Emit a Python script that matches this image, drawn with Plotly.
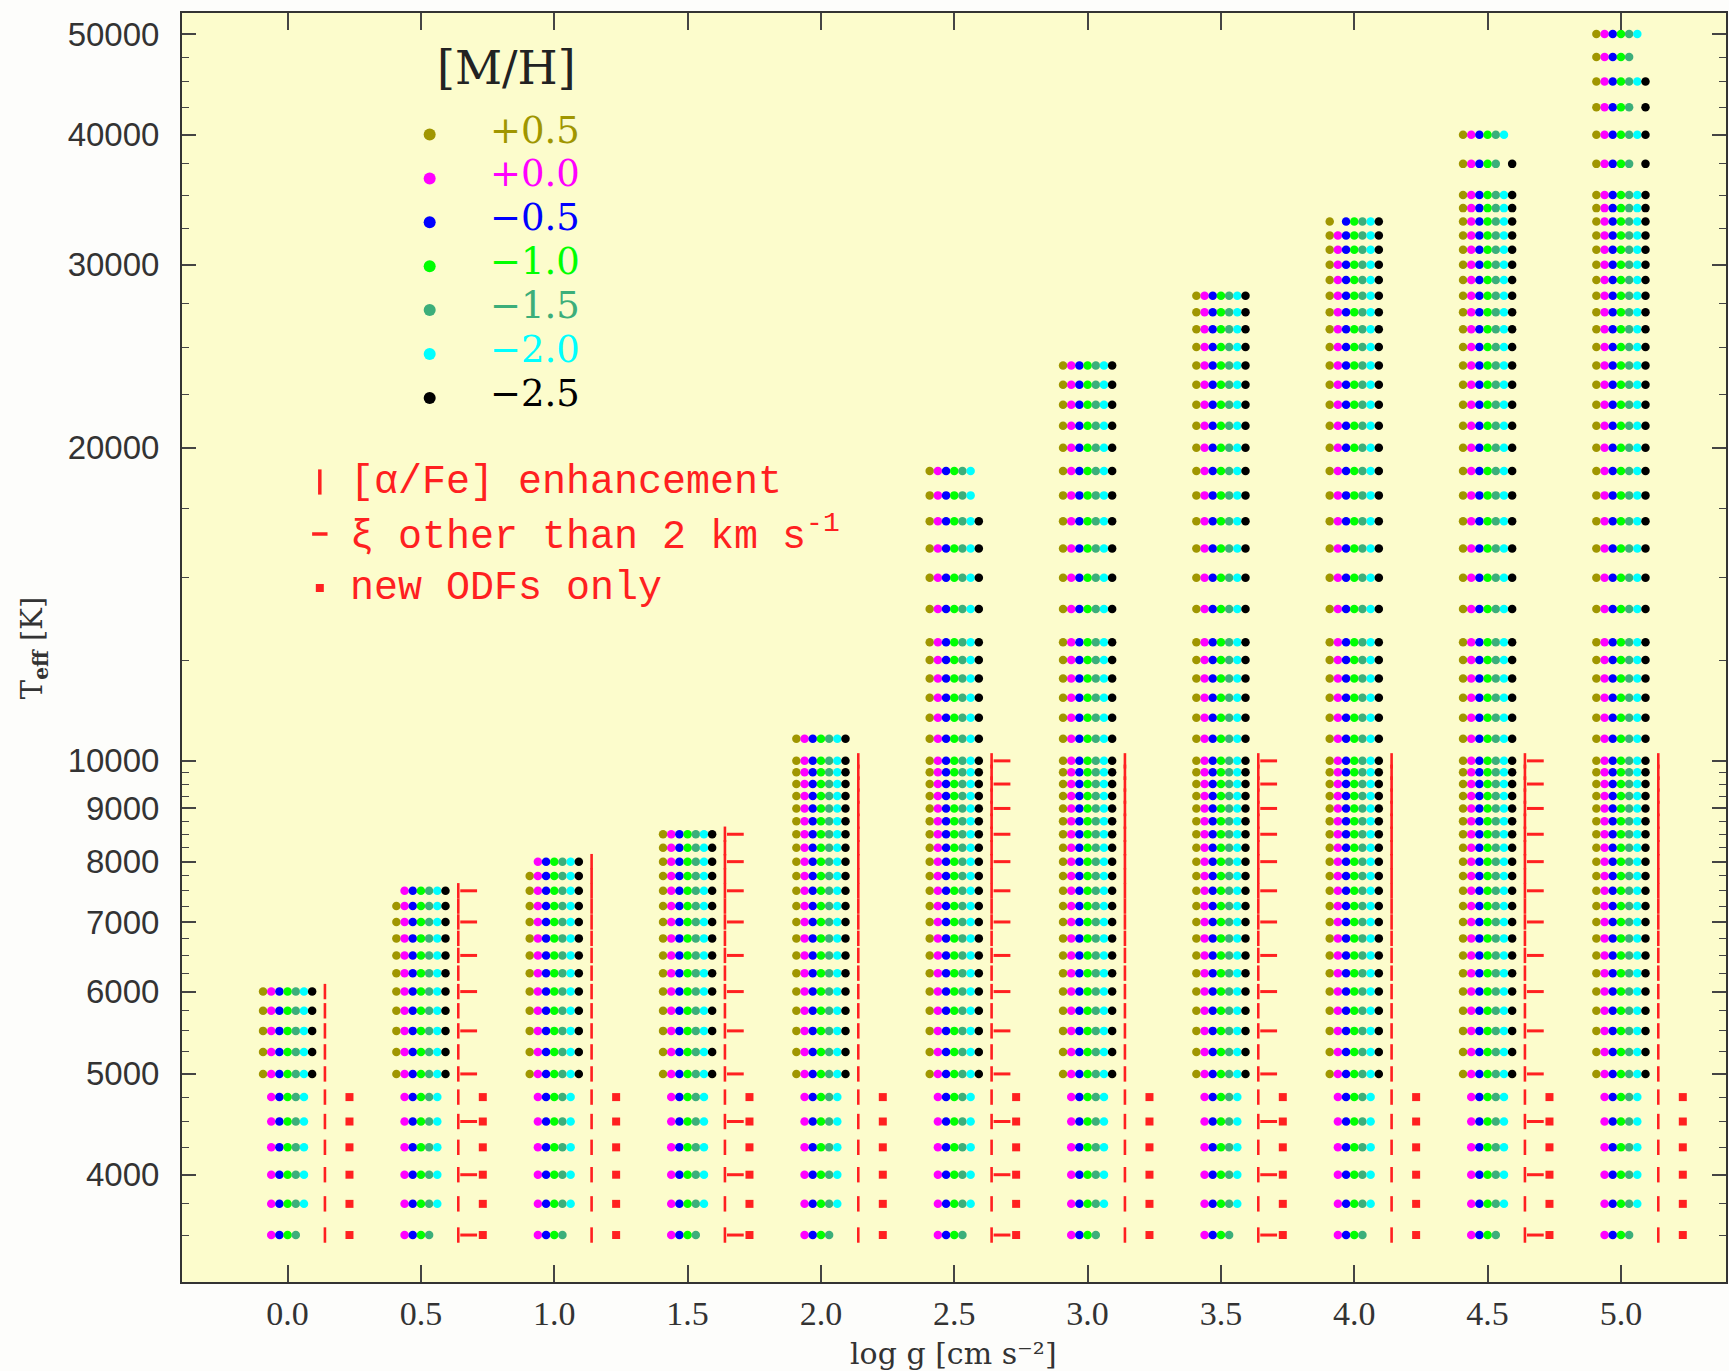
import plotly.graph_objects as go

# ---------------- data ----------------
logg_values = [0.0, 0.5, 1.0, 1.5, 2.0, 2.5, 3.0, 3.5, 4.0, 4.5, 5.0]
logg_ticktext = ["0.0", "0.5", "1.0", "1.5", "2.0", "2.5", "3.0", "3.5", "4.0", "4.5", "5.0"]
teff_max = [6000, 7500, 8000, 8500, 10500, 19000, 24000, 28000, 33000, 40000, 50000]

teff_grid = [3500, 3750, 4000, 4250, 4500, 4750, 5000, 5250, 5500, 5750, 6000, 6250,
             6500, 6750, 7000, 7250, 7500, 7750, 8000, 8250, 8500, 8750, 9000, 9250,
             9500, 9750, 10000, 10500, 11000, 11500, 12000, 12500, 13000, 14000, 15000,
             16000, 17000, 18000, 19000, 20000, 21000, 22000, 23000, 24000, 25000, 26000,
             27000, 28000, 29000, 30000, 31000, 32000, 33000, 34000, 35000, 37500, 40000,
             42500, 45000, 47500, 50000]

mh_labels = ["+0.5", "+0.0", "\u22120.5", "\u22121.0", "\u22121.5", "\u22122.0", "\u22122.5"]
mh_colors = ["#a09600", "#ff00ff", "#0000ff", "#00ff00", "#3cae7a", "#00ffff", "#000000"]

# metallicities absent at the cool end (all log g)
cool_teffs = [3500, 3750, 4000, 4250, 4500, 4750]
cool_missing = ["+0.5", "\u22122.5"]
coolest_teff = 3500
coolest_missing = ["\u22122.0"]

# individual missing models: (log g, Teff, [M/H])
missing_models = [
    (0.5, 7500, "+0.5"),
    (1.0, 8000, "+0.5"),
    (2.5, 18000, "\u22122.5"),
    (2.5, 19000, "\u22122.5"),
    (4.0, 33000, "+0.0"),
    (4.5, 37500, "\u22122.0"),
    (4.5, 40000, "\u22122.5"),
    (5.0, 37500, "\u22122.0"),
    (5.0, 42500, "\u22122.0"),
    (5.0, 47500, "\u22122.0"),
    (5.0, 47500, "\u22122.5"),
    (5.0, 50000, "\u22122.5"),
]

alpha_teff_limit = 10000
xi_logg = [0.5, 1.5, 2.5, 3.5, 4.5]
xi_teffs = [3500, 4000, 4500, 5000, 5500, 6000, 6500, 7000, 7500, 8000, 8500, 9000, 9500, 10000]
odf_teffs = [3500, 3750, 4000, 4250, 4500, 4750]

y_major = [4000, 5000, 6000, 7000, 8000, 9000, 10000, 20000, 30000, 40000, 50000]
y_minor = [3500, 3750, 4250, 4500, 4750, 5250, 5500, 5750, 6250, 6500, 6750, 7250, 7500,
           7750, 8250, 8500, 8750, 9250, 9500, 9750, 12500, 15000, 17500, 22500, 25000,
           27500, 32500, 35000, 37500, 42500, 45000, 47500]

# ---------------- styling / layout constants ----------------
W, H = 1729, 1371
L, R, T, B = 182, 1728, 13, 1282          # plot-area pixel box
X_RANGE = [-0.396, 5.394]
Y_RANGE = [3.4989, 4.7191]
MH_STEP = 0.0307
ALPHA_OFF, XI_OFF, ODF_OFF = 0.140, 0.179, 0.232
RED = "#ff2020"
BG = "#fcfccc"


def px_to_paper(px, py):
    return (px - L) / (R - L), (B - py) / (B - T)


fig = go.Figure()

tmax_of = dict(zip(logg_values, teff_max))
missing_set = set(missing_models)
for k, (lab, col) in enumerate(zip(mh_labels, mh_colors)):
    xs, ys = [], []
    for g, tmax in zip(logg_values, teff_max):
        for t in teff_grid:
            if t > tmax:
                continue
            if t in cool_teffs and lab in cool_missing:
                continue
            if t == coolest_teff and lab in coolest_missing:
                continue
            if (g, t, lab) in missing_set:
                continue
            xs.append(g + (k - 3) * MH_STEP)
            ys.append(t)
    fig.add_trace(go.Scatter(x=xs, y=ys, mode="markers", name=lab, showlegend=False,
                             marker=dict(size=8.5, color=col, line=dict(width=0)),
                             hoverinfo="skip"))

# alpha enhancement ticks
ax, ay = [], []
for g, tmax in zip(logg_values, teff_max):
    for t in teff_grid:
        if t <= min(tmax, alpha_teff_limit):
            ax.append(g + ALPHA_OFF)
            ay.append(t)
fig.add_trace(go.Scatter(x=ax, y=ay, mode="markers", showlegend=False, hoverinfo="skip",
                         marker=dict(symbol="line-ns", size=11, line=dict(width=2.6, color=RED))))

# microturbulence dashes
xx, xy = [], []
for g in xi_logg:
    for t in xi_teffs:
        if t <= min(tmax_of[g], alpha_teff_limit):
            xx.append(g + XI_OFF)
            xy.append(t)
fig.add_trace(go.Scatter(x=xx, y=xy, mode="markers", showlegend=False, hoverinfo="skip",
                         marker=dict(symbol="line-ew", size=12, line=dict(width=3, color=RED))))

# new ODFs squares
ox, oy = [], []
for g in logg_values:
    for t in odf_teffs:
        ox.append(g + ODF_OFF)
        oy.append(t)
fig.add_trace(go.Scatter(x=ox, y=oy, mode="markers", showlegend=False, hoverinfo="skip",
                         marker=dict(symbol="square", size=8, color=RED, line=dict(width=0))))

# ---------------- in-plot legend (pixel-coordinate overlay axes) ----------------
leg_dot_x = 430
leg_label_x = 488
leg_y0, leg_dy = 134.5, 43.9
leg_text_y0 = 130.0
fig.add_trace(go.Scatter(
    x=[leg_dot_x] * len(mh_labels),
    y=[leg_y0 + i * leg_dy for i in range(len(mh_labels))],
    mode="markers", xaxis="x2", yaxis="y2", showlegend=False, hoverinfo="skip",
    marker=dict(size=12, color=mh_colors, line=dict(width=0))))

annotations = []
annotations.append(dict(x=507, y=68, xref="x2", yref="y2", text="[M/H]", showarrow=False,
                        xanchor="center", yanchor="middle",
                        font=dict(family="DejaVu Serif", size=46, color="#222222")))
for i, (lab, col) in enumerate(zip(mh_labels, mh_colors)):
    annotations.append(dict(x=leg_label_x, y=leg_text_y0 + i * leg_dy, xref="x2", yref="y2",
                            text=lab, showarrow=False, xanchor="left", yanchor="middle",
                            font=dict(family="DejaVu Serif", size=37, color=col)))

red_mark_x = 320
red_text_x = 348
red_rows_y = [482, 534, 588]
red_texts = ["[\u03b1/Fe] enhancement", "\u03be other than 2 km s<sup>-1</sup>", "new ODFs only"]
fig.add_trace(go.Scatter(x=[red_mark_x], y=[red_rows_y[0]], mode="markers", xaxis="x2", yaxis="y2",
                         showlegend=False, hoverinfo="skip",
                         marker=dict(symbol="line-ns", size=18, line=dict(width=3.5, color=RED))))
fig.add_trace(go.Scatter(x=[red_mark_x], y=[red_rows_y[1]], mode="markers", xaxis="x2", yaxis="y2",
                         showlegend=False, hoverinfo="skip",
                         marker=dict(symbol="line-ew", size=11, line=dict(width=3.5, color=RED))))
fig.add_trace(go.Scatter(x=[red_mark_x], y=[red_rows_y[2]], mode="markers", xaxis="x2", yaxis="y2",
                         showlegend=False, hoverinfo="skip",
                         marker=dict(symbol="square", size=8, color=RED, line=dict(width=0))))
for yv, txt in zip(red_rows_y, red_texts):
    annotations.append(dict(x=red_text_x, y=yv, xref="x2", yref="y2", text=txt, showarrow=False,
                            xanchor="left", yanchor="middle",
                            font=dict(family="Liberation Mono", size=40, color=RED)))

# axis titles (paper coordinates, outside the plot area)
xt_x, xt_y = px_to_paper(954, 1353)
annotations.append(dict(x=xt_x, y=xt_y, xref="paper", yref="paper",
                        text="log g [cm s\u207b\u00b2]", showarrow=False,
                        xanchor="center", yanchor="middle",
                        font=dict(family="DejaVu Serif", size=30, color="#333333")))
yt_x, yt_y = px_to_paper(34, 648)
annotations.append(dict(x=yt_x, y=yt_y, xref="paper", yref="paper",
                        text="T<sub><b>eff</b></sub> [K]", showarrow=False, textangle=-90,
                        xanchor="center", yanchor="middle",
                        font=dict(family="DejaVu Serif", size=29, color="#333333")))

axis_line = "#333333"
fig.update_layout(
    width=W, height=H,
    margin=dict(l=L, r=W - R, t=T, b=H - B, pad=0),
    paper_bgcolor="#fdfdfb", plot_bgcolor=BG,
    showlegend=False,
    annotations=annotations,
    xaxis=dict(range=X_RANGE, tickmode="array", tickvals=logg_values, ticktext=logg_ticktext,
               ticks="inside", ticklen=17, tickwidth=1.6, tickcolor="#444444",
               showline=True, linecolor=axis_line, linewidth=2, mirror="ticks",
               showgrid=False, zeroline=False, ticklabelstandoff=0,
               tickfont=dict(family="Liberation Serif", size=34, color="#333333")),
    yaxis=dict(type="log", range=Y_RANGE, tickmode="array", tickvals=y_major,
               ticktext=[str(v) for v in y_major],
               ticks="inside", ticklen=14, tickwidth=1.6, tickcolor="#444444",
               minor=dict(tickmode="array", tickvals=y_minor, ticks="inside", ticklen=7,
                          tickwidth=1.4, tickcolor="#444444", showgrid=False),
               showline=True, linecolor=axis_line, linewidth=2, mirror="ticks",
               showgrid=False, zeroline=False, ticklabelstandoff=14,
               tickfont=dict(family="Liberation Sans", size=33, color="#333333")),
    xaxis2=dict(range=[L, R], overlaying="x", visible=False, anchor="y2", fixedrange=True),
    yaxis2=dict(range=[B, T], overlaying="y", visible=False, anchor="x2", fixedrange=True),
)

fig.write_html("out.html", config={"displayModeBar": False})
